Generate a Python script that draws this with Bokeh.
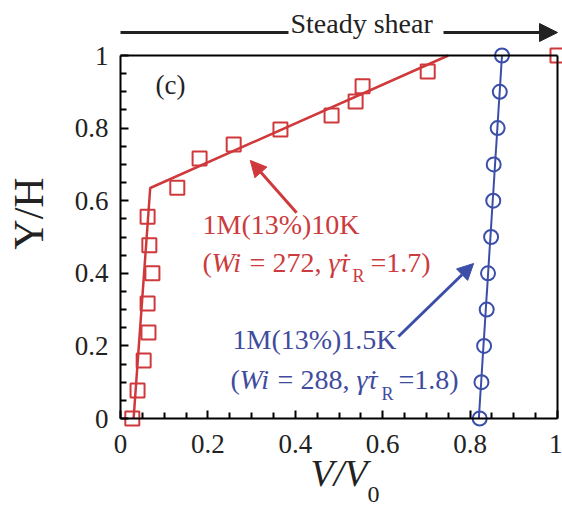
from math import pi
from bokeh.plotting import figure
from bokeh.models import (Label, Arrow, NormalHead, FixedTicker, CustomJSTickFormatter,
                          LinearAxis, Range1d)
from bokeh.embed import file_html
from bokeh.resources import INLINE

# ---- data ----
red_x = [0.027, 0.039, 0.053, 0.064, 0.062, 0.073, 0.066, 0.062, 0.13, 0.181, 0.259,
         0.366, 0.483, 0.538, 0.554, 0.703, 1.0]
red_y = [0.0, 0.077, 0.16, 0.237, 0.317, 0.40, 0.477, 0.556, 0.636, 0.716, 0.755,
         0.796, 0.835, 0.873, 0.915, 0.956, 1.0]
red_fit_x = [0.03, 0.068, 0.75]
red_fit_y = [0.0, 0.635, 1.0]

blue_x = [0.822, 0.826, 0.832, 0.838, 0.841, 0.848, 0.853, 0.854, 0.863, 0.868, 0.873]
blue_y = [0.0, 0.1, 0.2, 0.3, 0.4, 0.5, 0.6, 0.7, 0.8, 0.9, 1.0]
blue_fit_x = [0.82, 0.873]
blue_fit_y = [0.0, 1.0]

major_ticks = [0, 0.2, 0.4, 0.6, 0.8, 1.0]
minor_ticks = [0.05, 0.1, 0.15, 0.25, 0.3, 0.35, 0.45, 0.5, 0.55, 0.65, 0.7, 0.75,
               0.85, 0.9, 0.95]

RED = "#d0393c"
BLUE = "#3b4ea8"
RED_T = "#cc3b3e"
BLUE_T = "#3f4c9e"
INK = "#222222"
FONT = "Liberation Serif"

W, H = 562, 511
X0, X1 = 120, 557          # picture x of data x=0 and x=1
Y0, Y1 = 418, 55           # picture y of data y=0 and y=1
pxx = X1 - X0
pxy = Y0 - Y1
x_lo, x_hi = -X0 / pxx, 1 + (W - X1) / pxx
y_lo, y_hi = -(H - Y0) / pxy, 1 + Y1 / pxy

p = figure(width=W, height=H, x_range=Range1d(x_lo, x_hi), y_range=Range1d(y_lo, y_hi),
           output_backend="svg", toolbar_location=None,
           min_border_left=0, min_border_right=0, min_border_top=0, min_border_bottom=0)
p.background_fill_color = "white"
p.border_fill_color = "white"
p.grid.visible = False
p.outline_line_color = None

for ax in (p.xaxis[0], p.yaxis[0]):
    ax.ticker = FixedTicker(ticks=major_ticks, minor_ticks=minor_ticks)
    ax.formatter = CustomJSTickFormatter(code="return (Math.round(tick*10)/10).toString();")
    ax.bounds = (0, 1)
    ax.fixed_location = 0
    ax.axis_line_width = 2
    ax.axis_line_color = "black"
    ax.major_tick_in = 8
    ax.major_tick_out = 0
    ax.minor_tick_in = 6
    ax.minor_tick_out = 0
    ax.major_tick_line_width = 2
    ax.minor_tick_line_width = 2
    ax.major_label_text_font = FONT
    ax.major_label_text_font_size = "27px"
    ax.major_label_text_color = INK
p.xaxis[0].major_label_standoff = 16
p.yaxis[0].major_label_standoff = 12

# top and right sides of the box
for side in ("above", "right"):
    p.add_layout(LinearAxis(fixed_location=1, bounds=(0, 1),
                            ticker=FixedTicker(ticks=[], minor_ticks=[]),
                            axis_line_width=2, axis_line_color="black",
                            major_tick_line_color=None, minor_tick_line_color=None),
                 side)

# fits
p.line(red_fit_x, red_fit_y, line_color=RED, line_width=2.5)
p.line(blue_fit_x, blue_fit_y, line_color=BLUE, line_width=2)
# markers
p.scatter(red_x, red_y, marker="square", size=14, line_color=RED, line_width=2,
          fill_color=None)
p.scatter(blue_x, blue_y, marker="circle", size=14, line_color=BLUE, line_width=2,
          fill_color=None)

# annotation arrows (data coords)
p.add_layout(Arrow(x_start=0.403, y_start=0.567, x_end=0.297, y_end=0.711,
                   line_color=RED, line_width=3,
                   end=NormalHead(size=16, fill_color=RED, line_color=RED)))
p.add_layout(Arrow(x_start=0.636, y_start=0.226, x_end=0.808, y_end=0.427,
                   line_color=BLUE, line_width=3,
                   end=NormalHead(size=16, fill_color=BLUE, line_color=BLUE)))


def sx(img_x):
    return img_x


def sy(img_y):
    return H - img_y


def lab(text, ix, iy, size, color="black", style="normal", align="left"):
    # iy is the wanted baseline in picture pixels; compensate for the label baseline
    p.add_layout(Label(x=sx(ix), y=sy(iy - 0.38 * size), x_units="screen",
                       y_units="screen", text=text, text_font=FONT,
                       text_font_size=f"{size}px", text_color=color,
                       text_font_style=style, text_align=align,
                       text_baseline="alphabetic"))


# panel label
lab("(c)", 155, 95, 27, INK)

# red annotation
lab("1M(13%)10K", 202, 235, 28, RED_T)
red_pieces = [("(", 202, "normal", 28, 273), ("Wi", 211, "italic", 28, 273),
              ("=", 249, "normal", 28, 273), ("272,", 272, "normal", 28, 273),
              ("γ̇τ", 328, "italic", 28, 273), ("R", 352, "normal", 18, 282),
              ("=1.7)", 370, "normal", 28, 273)]
for t, x, st, sz, y in red_pieces:
    lab(t, x, y, sz, RED_T, st)

# blue annotation
lab("1M(13%)1.5K", 232, 350, 28, BLUE_T)
blue_pieces = [("(", 230, "normal", 28, 390), ("Wi", 239, "italic", 28, 390),
               ("=", 277, "normal", 28, 390), ("288,", 300, "normal", 28, 390),
               ("γ̇τ", 356, "italic", 28, 390), ("R", 381, "normal", 18, 400),
               ("=1.8)", 398, "normal", 28, 390)]
for t, x, st, sz, y in blue_pieces:
    lab(t, x, y, sz, BLUE_T, st)

# axis titles
lab("V/V", 310, 487, 38, INK, "italic")
lab("0", 367, 503, 24, INK)
p.add_layout(Label(x=sx(28), y=sy(213), x_units="screen", y_units="screen",
                   text="Y/H", text_font=FONT, text_font_size="42px", text_color=INK,
                   angle=pi / 2, text_align="center", text_baseline="middle"))

# top "Steady shear" arrow
lab("Steady shear", 290, 34, 28, INK)
p.add_layout(Arrow(x_start=sx(120), y_start=sy(32), x_end=sx(288), y_end=sy(32),
                   start_units="screen", end_units="screen",
                   line_color=INK, line_width=3, end=None))
p.add_layout(Arrow(x_start=sx(443), y_start=sy(32), x_end=sx(557), y_end=sy(32),
                   start_units="screen", end_units="screen",
                   line_color=INK, line_width=3,
                   end=NormalHead(size=18, fill_color=INK, line_color=INK)))

open("out.html", "w").write(file_html(p, INLINE))
